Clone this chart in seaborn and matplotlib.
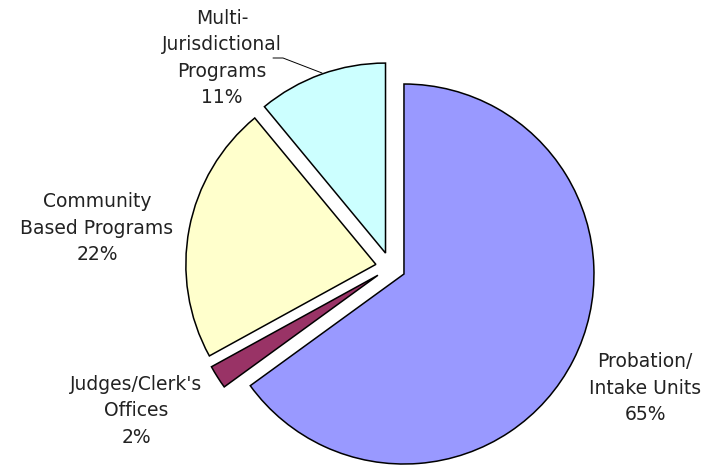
import matplotlib
matplotlib.use("Agg")
import matplotlib.pyplot as plt
import seaborn as sns

categories = ["Probation/\nIntake Units", "Judges/Clerk's\nOffices",
              "Community\nBased Programs", "Multi-\nJurisdictional\nPrograms"]
shares = [65, 2, 22, 11]
colors = ["#9999FF", "#993366", "#FFFFCC", "#CCFFFF"]

sns.set_theme(style="white")
plt.rcParams["font.family"] = ["DejaVu Sans"]

fig = plt.figure(figsize=(7.09, 4.66), dpi=100)
ax = fig.add_axes([0, 0, 1, 1])

# explode is in data units (pixels here)
ax.pie(shares, colors=colors, startangle=90, counterclock=False,
       explode=[15] * len(shares), center=(390.6, 198.8), radius=190,
       wedgeprops=dict(edgecolor="black", linewidth=1.1), frame=True)
ax.set_xlim(0, 709)
ax.set_ylim(0, 466)
ax.set_aspect("equal")
ax.axis("off")

# label positions (pixels, y measured from top)
label_pos = [(645, 388), (136, 411), (97, 228), (222, 58)]
for name, val, (x, y) in zip(categories, shares, label_pos):
    ax.text(x, 466 - y, f"{name}\n{val}%", ha="center", va="center",
            fontsize=13.5, color="#222222", linespacing=1.5)

# leader line for the Multi-Jurisdictional label
ax.plot([273, 283, 322], [466 - 58, 466 - 58, 466 - 73], color="black", lw=0.7)

fig.savefig("out.png", dpi=100)
